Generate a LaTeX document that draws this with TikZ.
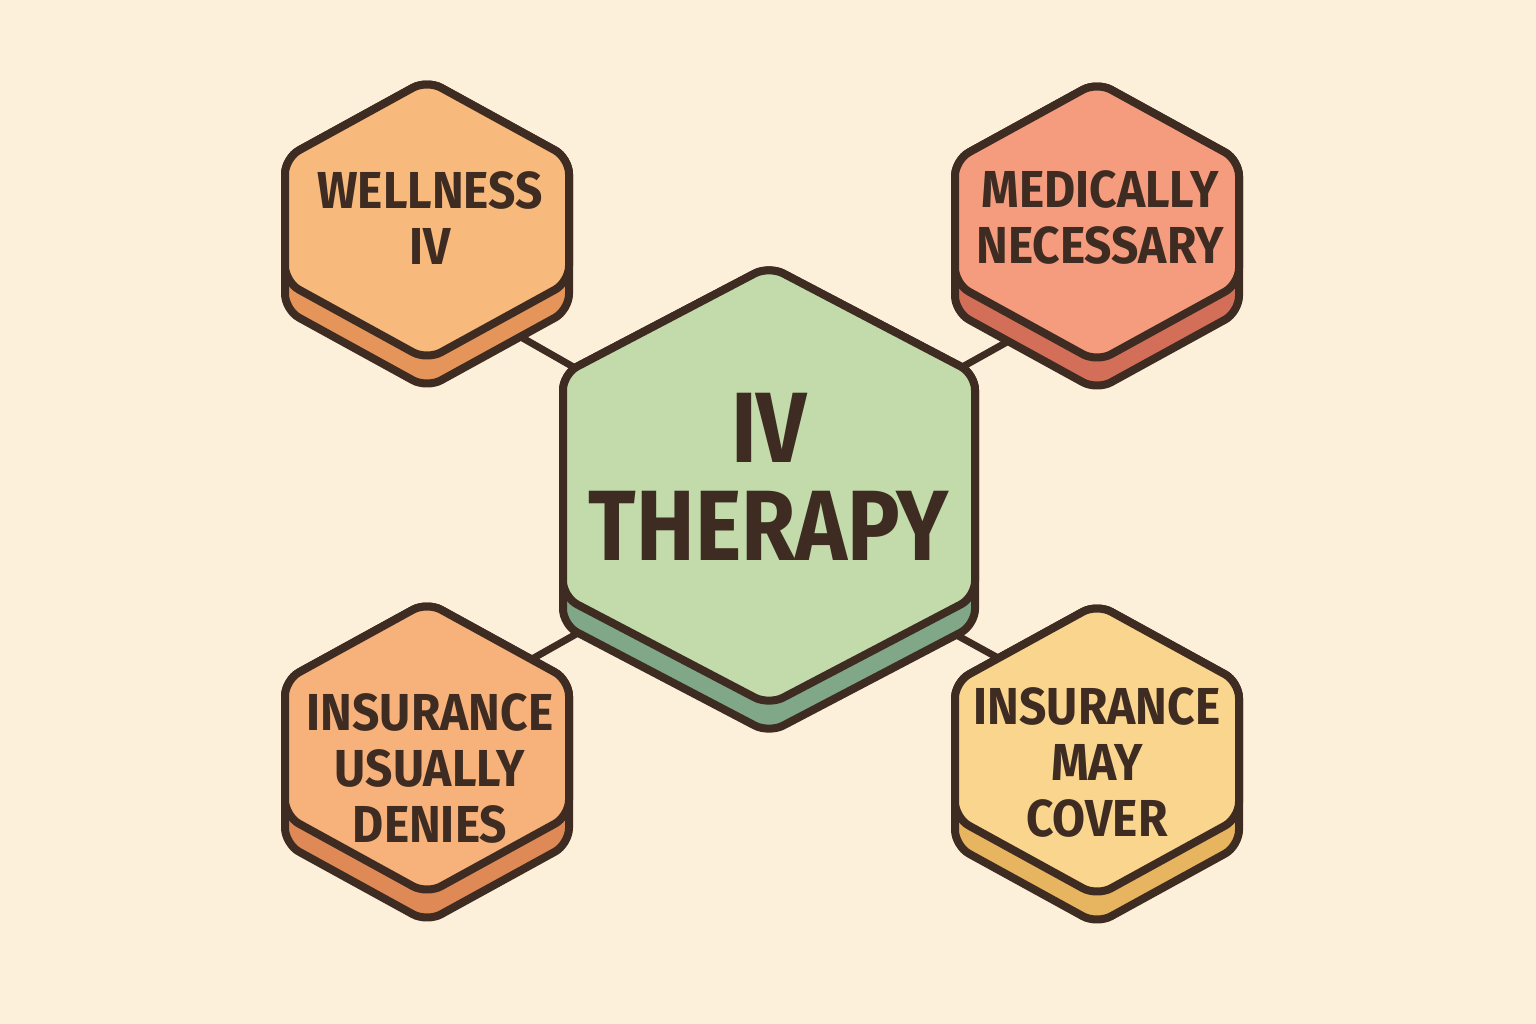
\documentclass[tikz,border=0pt]{standalone}
\usepackage{fontspec}
\newfontfamily\lblfont{Fira Sans}[FakeStretch=0.88]
\newfontfamily\smlfont{Fira Sans}[FakeStretch=0.92]
\definecolor{bgc}{HTML}{FDF0DA}
\definecolor{ink}{HTML}{3E2C22}
\definecolor{wtop}{HTML}{F8B97C}
\definecolor{wside}{HTML}{E6955A}
\definecolor{mtop}{HTML}{F59C7E}
\definecolor{mside}{HTML}{D36E58}
\definecolor{dtop}{HTML}{F7B17B}
\definecolor{dside}{HTML}{DF8A56}
\definecolor{ctop}{HTML}{FAD58E}
\definecolor{cside}{HTML}{E7B460}
\definecolor{gtop}{HTML}{C3DBAB}
\definecolor{gside}{HTML}{80A787}
\newcommand\hexshape[8]{%
  \pgfmathsetmacro\hxA{#2+#4}%
  \pgfmathsetmacro\hxB{#2+#4+#5}%
  \pgfmathsetmacro\hxC{#2+2*#4+#5}%
  \pgfmathsetmacro\hxBB{#2+#4+#5+#6}%
  \pgfmathsetmacro\hxCC{#2+2*#4+#5+#6}%
  \pgfmathsetmacro\hxL{#1-#3}%
  \pgfmathsetmacro\hxR{#1+#3}%
  \filldraw[hexline,fill=#8] (#1,#2) -- (\hxR,\hxA) -- (\hxR,\hxBB) -- (#1,\hxCC) -- (\hxL,\hxBB) -- (\hxL,\hxA) -- cycle;
  \filldraw[hexline,fill=#7] (#1,#2) -- (\hxR,\hxA) -- (\hxR,\hxB) -- (#1,\hxC) -- (\hxL,\hxB) -- (\hxL,\hxA) -- cycle;
}
\tikzset{
  hexline/.style={draw=ink,line width=8pt,line join=round,rounded corners=16pt},
  link/.style={draw=ink,line width=7pt},
  smalltxt/.style={text=ink,align=center,font=\smlfont\bfseries\fontsize{52}{56}\selectfont,inner sep=0pt},
  bigtxt/.style={text=ink,align=center,font=\lblfont\bfseries\fontsize{100}{98}\selectfont,inner sep=0pt}
}
\begin{document}
\begin{tikzpicture}[x=1pt,y=-1pt]
\fill[bgc] (0,0) rectangle (1536,1024);
\useasboundingbox (0,0) rectangle (1536,1024);
% connector end points (hidden under the hexagons)
\coordinate (w1) at (470,308);
\coordinate (c1) at (640,405);
\coordinate (c2) at (930,385);
\coordinate (m1) at (1050,318);
\coordinate (c3) at (640,598);
\coordinate (d1) at (470,694);
\coordinate (c4) at (900,604);
\coordinate (v1) at (1060,692);
\draw[link] (w1) -- (c1);
\draw[link] (c2) -- (m1);
\draw[link] (c3) -- (d1);
\draw[link] (c4) -- (v1);
% hexagons
\hexshape{427}{80}{142}{78}{124}{28}{wtop}{wside}
\hexshape{1097}{82}{142}{78}{124}{28}{mtop}{mside}
\hexshape{427}{602}{142}{78}{136}{28}{dtop}{dside}
\hexshape{1097}{604}{142}{78}{136}{28}{ctop}{cside}
\hexshape{769}{266}{206}{108}{223}{28}{gtop}{gside}
% labels
\node[smalltxt] (wellness) at (430,218) {WELLNESS\\IV};
\node[smalltxt] (medical) at (1100,217) {MEDICALLY\\NECESSARY};
\node[smalltxt] (denies) at (430,768) {INSURANCE\\USUALLY\\DENIES};
\node[smalltxt] (cover) at (1097,762) {INSURANCE\\MAY\\COVER};
\node[bigtxt] (center) at (769,477) {IV\\THERAPY};
\end{tikzpicture}
\end{document}
